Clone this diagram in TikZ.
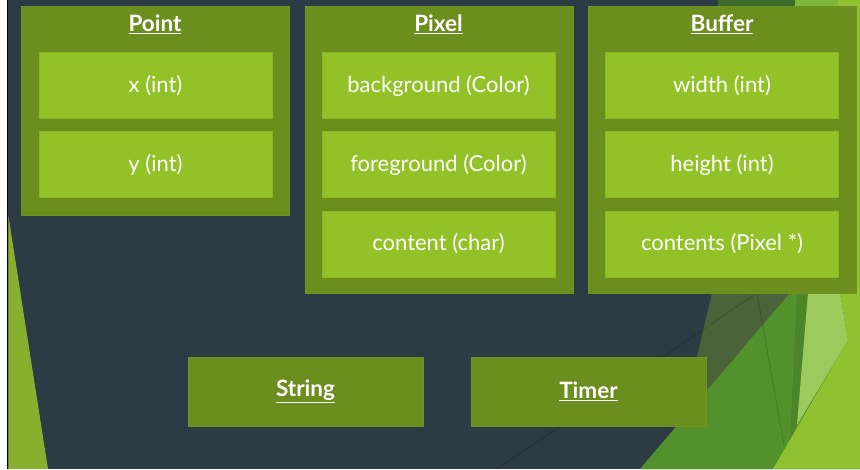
\documentclass[tikz,border=0pt]{standalone}
\usepackage{fontspec}
\setmainfont{Lato}
\begin{document}
\begin{tikzpicture}[x=1pt,y=-1pt,
  group/.style={fill=grpgreen, draw=grpedge, line width=0.6pt, inner sep=0pt, anchor=center},
  field/.style={fill=fldgreen, draw=fldedge, line width=0.6pt, inner sep=0pt,
    minimum width=233pt, minimum height=66pt, text=white, font=\fontsize{22}{24}\selectfont},
  title/.style={text=white, inner sep=0pt, font=\fontsize{22.5}{24}\selectfont\bfseries},
  facet/.style={draw=none}]
\definecolor{bgdark}{HTML}{2C3B44}
\definecolor{grpgreen}{HTML}{6B8E1E}
\definecolor{grpedge}{HTML}{6F931F}
\definecolor{fldgreen}{HTML}{92C227}
\definecolor{fldedge}{HTML}{8AB824}
\definecolor{leftgreen}{HTML}{86B02D}
\definecolor{greygreen}{HTML}{4A6339}
\definecolor{deepgreen}{HTML}{3E6B2A}
\definecolor{midgreen}{HTML}{52912C}
\definecolor{palegreen}{HTML}{9DCA5C}
\definecolor{brightgreen}{HTML}{8FC131}
\definecolor{topgreen}{HTML}{7FB53A}

\useasboundingbox (0,0) rectangle (860,469);

% backdrop
\fill[bgdark] (0,0) rectangle (860,469);
\fill[white] (0,0) rectangle (6.5,469);
\draw[black, line width=1.6pt] (7.5,0) -- (7.5,469);

% facets
\fill[leftgreen] (8.3,215) -- (48,469) -- (8.3,469) -- cycle;
\fill[greygreen] (718,0) -- (860,0) -- (860,469) -- (640,469) -- (680,430) -- (697,357) -- (712,293) -- cycle;
\fill[deepgreen] (718,0) -- (795,0) -- (800,290) -- (740,290) -- cycle;
\fill[topgreen] (795,0) -- (838,0) -- (840,290) -- (805,290) -- cycle;
\fill[midgreen] (640,469) -- (790,293) -- (860,210) -- (860,469) -- cycle;
\fill[black, opacity=0.08] (797,293) -- (808,293) -- (797,425) -- (790,440) -- cycle;
\fill[palegreen] (808,293) -- (840,293) -- (848,340) -- (797,425) -- cycle;
\fill[brightgreen] (838,0) -- (860,0) -- (860,469) -- (773,469) -- (848,340) -- (840,293) -- cycle;
\draw[black, opacity=0.15, line width=0.8pt] (497,469) -- (757,293) -- (784,445);

% Point
\node[group, minimum width=268pt, minimum height=209pt] (point) at (155,110.5) {};
\node[title] (pointT) at (155,24) {\underline{Point}};
\node[field] (px) at (155.5,85.5) {x (int)};
\node[field] (py) at (155.5,164.5) {y (int)};

% Pixel
\node[group, minimum width=268pt, minimum height=287pt] (pixel) at (439,149.5) {};
\node[title] (pixelT) at (438.5,24) {\underline{Pixel}};
\node[field] (pbg) at (438.5,85.5) {background (Color)};
\node[field] (pfg) at (438.5,164.5) {foreground (Color)};
\node[field] (pct) at (438.5,244) {content (char)};

% Buffer
\node[group, minimum width=268pt, minimum height=287pt] (buffer) at (722,149.5) {};
\node[title] (bufferT) at (722,24) {\underline{Buffer}};
\node[field] (bw) at (722,85.5) {width (int)};
\node[field] (bh) at (722,164.5) {height (int)};
\node[field] (bc) at (722,244) {contents (Pixel *)};

% String and Timer
\node[group, minimum width=235pt, minimum height=69pt] (string) at (305.5,391.5) {};
\node[title] (stringT) at (305.5,391.5) {\underline{String}};
\node[group, minimum width=235pt, minimum height=69pt] (timer) at (588.5,391.5) {};
\node[title] (timerT) at (588.5,391.5) {\underline{Timer}};
\end{tikzpicture}
\end{document}
